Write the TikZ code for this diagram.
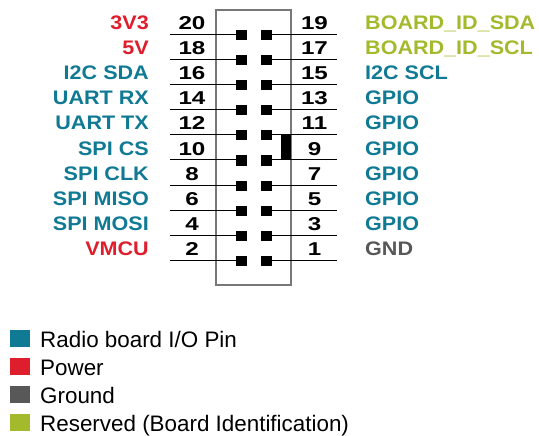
\documentclass[tikz,border=0pt]{standalone}
\usepackage{fontspec}
\setmainfont{Liberation Sans}
\newfontfamily\numfont[FakeStretch=1.3]{Liberation Sans}
\newfontfamily\labfont[FakeStretch=1.1]{Liberation Sans}
\definecolor{teal}{RGB}{16,122,148}
\definecolor{pwr}{RGB}{222,30,44}
\definecolor{gnd}{RGB}{88,88,88}
\definecolor{rsv}{RGB}{164,186,45}
\definecolor{boxgray}{RGB}{120,120,120}
\begin{document}
\begin{tikzpicture}[x=1pt,y=-1pt,
  pin/.style={fill=black,draw=none,minimum width=11pt,minimum height=10pt,inner sep=0pt},
  lab/.style={inner sep=0pt,font=\labfont\fontsize{19.6}{19.6}\selectfont\bfseries},
  num/.style={inner sep=0pt,anchor=base,font=\numfont\fontsize{18.6}{18.6}\selectfont\bfseries},
  wire/.style={line width=1pt,black},
  legsq/.style={minimum width=20pt,minimum height=17pt,inner sep=0pt,draw=none,anchor=south west},
  legtxt/.style={inner sep=0pt,anchor=base west,font=\fontsize{22.4}{22.4}\selectfont}]
\useasboundingbox (0,0) rectangle (539,436);
\draw[boxgray,line width=1.5pt] (216,10) rectangle (291,285);
\node[fill=black,minimum width=10pt,minimum height=25pt,inner sep=0pt,anchor=north west] (key) at (281,135) {};
\foreach \k/\ln/\rn/\lt/\rt/\lc/\rc in {
  0/20/19/3V3/BOARD\textunderscore ID\textunderscore SDA/pwr/rsv,
  1/18/17/5V/BOARD\textunderscore ID\textunderscore SCL/pwr/rsv,
  2/16/15/I2C SDA/I2C SCL/teal/teal,
  3/14/13/UART RX/GPIO/teal/teal,
  4/12/11/UART TX/GPIO/teal/teal,
  5/10/9/SPI CS/GPIO/teal/teal,
  6/8/7/SPI CLK/GPIO/teal/teal,
  7/6/5/SPI MISO/GPIO/teal/teal,
  8/4/3/SPI MOSI/GPIO/teal/teal,
  9/2/1/VMCU/GND/pwr/gnd}{
  \pgfmathsetmacro{\yy}{34.5+25.1*\k}
  \node[pin] (pl\k) at (241.5,\yy+0.5) {};
  \node[pin] (pr\k) at (266.5,\yy+0.5) {};
  \coordinate (el\k) at (170,\yy);
  \coordinate (er\k) at (337,\yy);
  \draw[wire] (el\k) -- (pl\k.west |- el\k);
  \draw[wire] (pr\k.east |- er\k) -- (er\k);
  \node[num] (nl\k) at (192,\yy-5) {\ln};
  \node[num] (nr\k) at (314.5,\yy-5) {\rn};
  \node[lab,anchor=base east,text=\lc] (ll\k) at (149,\yy-5) {\lt};
  \node[lab,anchor=base west,text=\rc] (rl\k) at (365,\yy-5) {\rt};
}
\node[legsq,fill=teal] (sq0) at (10,347) {};
\node[legtxt] (lt0) at (40,347) {Radio board I/O Pin};
\node[legsq,fill=pwr] (sq1) at (10,375) {};
\node[legtxt] (lt1) at (40,375) {Power};
\node[legsq,fill=gnd] (sq2) at (10,403) {};
\node[legtxt] (lt2) at (40,403) {Ground};
\node[legsq,fill=rsv] (sq3) at (10,431) {};
\node[legtxt] (lt3) at (40,431) {Reserved (Board Identification)};
\end{tikzpicture}
\end{document}
